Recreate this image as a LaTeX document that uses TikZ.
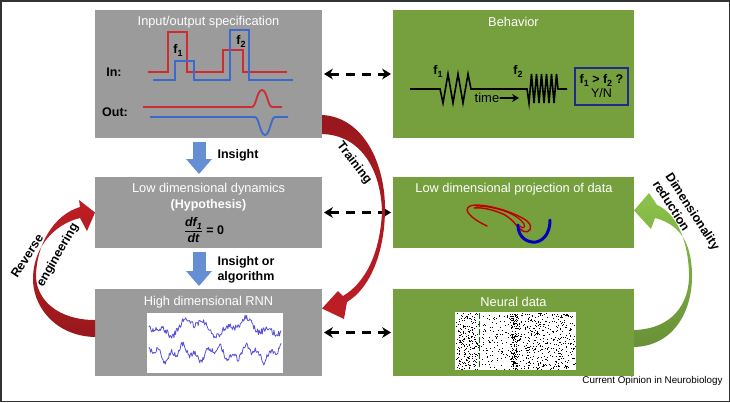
\documentclass[tikz,border=0pt]{standalone}
\usepackage{fontspec}
\setmainfont{Liberation Sans}
\usepackage{amsmath}
\usetikzlibrary{arrows.meta}
\definecolor{boxgray}{RGB}{155,155,155}
\definecolor{boxgreen}{RGB}{117,160,61}
\definecolor{sigred}{RGB}{205,45,50}
\definecolor{sigblue}{RGB}{60,105,205}
\definecolor{insightblue}{RGB}{102,142,210}
\definecolor{ribbonred}{RGB}{190,30,36}
\definecolor{ribbongreen}{RGB}{140,195,75}
\definecolor{tracecol}{RGB}{85,80,215}
\definecolor{navybox}{RGB}{35,40,140}
\definecolor{framegray}{RGB}{50,50,50}
\newcommand{\fidx}[1]{f\raisebox{-0.45ex}{\fontsize{9}{9}\selectfont #1}}

\begin{document}
\begin{tikzpicture}[x=1pt,y=-1pt,>={Stealth[length=9pt,width=11pt,line width=0pt]},line cap=round,
  graybox/.style={fill=boxgray,inner sep=0pt,outer sep=0pt,minimum width=227pt},
  greenbox/.style={fill=boxgreen,inner sep=0pt,outer sep=0pt,minimum width=241pt},
  boxtitle/.style={text=white,font=\fontsize{12.8}{15}\selectfont},
  lbl/.style={font=\bfseries\fontsize{12.5}{15}\selectfont},
  dashlink/.style={<->,line width=3pt,dash pattern=on 9pt off 7pt,line cap=butt,shorten <=2pt,shorten >=2pt},
  insight/.style={insightblue,line width=13pt,line cap=butt,-{Triangle[width=26pt,length=15pt,line width=0pt]},shorten <=4pt,shorten >=3pt},
  sig/.style={line width=1.8pt,line join=miter,line cap=butt},
  trace/.style={tracecol,line width=0.8pt,line join=round}]
\useasboundingbox (0,0) rectangle (730,402);
\draw[framegray,line width=1.5pt] (0.75,0.75) rectangle (729.25,401.25);

\node[graybox,minimum height=128pt] (io) at (208.5,74) {};
\node[greenbox,minimum height=128pt] (beh) at (513.5,74) {};
\node[graybox,minimum height=71pt] (dyn) at (208.5,212.5) {};
\node[greenbox,minimum height=71pt] (proj) at (513.5,212.5) {};
\node[graybox,minimum height=87pt] (rnn) at (208.5,332.5) {};
\node[greenbox,minimum height=87pt] (neur) at (513.5,332.5) {};

\node[boxtitle] (iotitle) at (208.5,22) {Input/output specification};
\node[boxtitle] (behtitle) at (513.5,22) {Behavior};
\node[boxtitle] (dyntitle) at (208.5,189) {Low dimensional dynamics};
\node[boxtitle] (projtitle) at (514,189) {Low dimensional projection of data};
\node[boxtitle] (rnntitle) at (208.5,302) {High dimensional RNN};
\node[boxtitle] (neurtitle) at (513.5,302) {Neural data};

\node[lbl] (inlbl) at (114,72) {In:};
\node[lbl] (outlbl) at (115,112) {Out:};
\node[lbl] (iof1) at (178,50) {\fidx{1}};
\node[lbl] (iof2) at (241,41) {\fidx{2}};
\draw[sig,sigred] (148,72) -- (168,72) -- (168,32) -- (187,32) -- (187,72) -- (223,72) -- (223,50) -- (243,50) -- (243,72) -- (287,72);
\draw[sig,sigblue] (153,80) -- (175,80) -- (175,61) -- (194,61) -- (194,80) -- (230,80) -- (230,30) -- (249,30) -- (249,80) -- (293,80);
\draw[sig,sigred] (143,107) -- (252,107) .. controls (256,107) and (257,90) .. (262,90) .. controls (267,90) and (268,107) .. (272,107) -- (282,107);
\draw[sig,sigblue] (150,117) -- (255,117) .. controls (259,117) and (260,135) .. (265,135) .. controls (270,135) and (271,117) .. (275,117) -- (288,117);

\node[lbl] (behf1) at (438,71) {\fidx{1}};
\node[lbl] (behf2) at (518,71) {\fidx{2}};
\draw[sig,line width=1.6pt] (410,89) -- (440,89) \foreach \k in {0,1,2}{ -- ({443+10*\k},103) -- ({448+10*\k},74) } -- (471,89) -- (527,89) \foreach \k in {0,...,5}{ -- ({529+5*\k},103) -- ({531.5+5*\k},74) } -- (558,89) -- (567,89);
\node[font=\fontsize{13}{15}\selectfont,inner sep=1pt] (timelbl) at (487,98) {time};
\coordinate (timeend) at (519,98);
\draw[line width=2pt,-{Stealth[length=7pt,width=8pt,line width=0pt]}] (timelbl.east) -- (timeend);
\node[draw=navybox,line width=1.3pt,minimum width=53pt,minimum height=37pt,inner sep=1pt,align=center,font=\fontsize{12.5}{14}\selectfont] (choice) at (601.5,86.5) {\textbf{\fidx{1} > \fidx{2} ?}\\Y/N};

\node[lbl,text=white] (hyp) at (208.5,205) {(Hypothesis)};
\node[font=\bfseries\fontsize{12.5}{14}\selectfont] (eq) at (204,230) {$\dfrac{\text{\bfseries\itshape d\fidx{1}}}{\text{\bfseries\itshape dt}}$ = 0};

\draw[red!75!black,line width=1.4pt] (487,226) .. controls (472,219) and (462,210) .. (470,206) .. controls (482,202) and (515,212) .. (527,221) .. controls (534,227) and (530,234) .. (523,231) .. controls (517,228) and (515,221) .. (505,215) .. controls (495,210) and (482,207) .. (474,208);
\draw[red!75!black,line width=1.2pt] (476,206) .. controls (495,206) and (518,214) .. (524,224) .. controls (526,228) and (522,229) .. (520,226);
\draw[blue!75!black,line width=3pt] (518,225) .. controls (518,238) and (528,243) .. (536,242) .. controls (546,240) and (550,230) .. (550,220);

\fill[white] (147,313) rectangle (283,373);
\pgfmathsetseed{7}
\draw[trace] plot[domain=149:281,samples=170] (\x,{327+6*sin(7*\x)+4*sin(17*\x+30)+3*rand});
\draw[trace] plot[domain=149:281,samples=170] (\x,{353+5*sin(11*\x+60)+4*sin(29*\x)+3*rand});

\fill[white] (455,312) rectangle (576,370);
\foreach \k in {1,...,220} \fill ({456+22*rnd},{313+56*rnd}) rectangle +(0.8,0.8);
\foreach \k in {1,...,110} \fill ({481+29*rnd},{313+56*rnd}) rectangle +(0.8,0.8);
\foreach \k in {1,...,170} \fill ({510+7*rnd},{313+56*rnd}) rectangle +(1,1);
\foreach \k in {1,...,420} \fill ({517+58*rnd},{313+56*rnd}) rectangle +(0.8,0.8);
\draw[green!45!black,line width=1pt,dash pattern=on 6pt off 2pt,line cap=butt] (479,313) -- (479,369);

\draw[dashlink] (io) -- (beh);
\draw[dashlink] (dyn) -- (proj);
\draw[dashlink] (rnn) -- (neur);
\draw[insight] ([xshift=-9.5pt]io.south) -- ([xshift=-9.5pt]dyn.north);
\draw[insight] ([xshift=-9.5pt]dyn.south) -- ([xshift=-9.5pt]rnn.north);
\node[lbl,anchor=west] (insightlbl) at (214,155) {Insight};
\node[lbl,anchor=west,align=left] (algolbl) at (214,269.5) {Insight or\\algorithm};

\shade[top color=ribbonred!80!black,bottom color=ribbonred] ([yshift=23pt]io.south east)
  .. controls (364,117) and (386,165) .. (385,212)
  .. controls (384,254) and (370,288) .. (347,302)
  -- (344,319) -- ([yshift=24pt]rnn.east) -- (338,291) -- (343,296)
  .. controls (365,283) and (380,254) .. (382,212)
  .. controls (381,170) and (361,135) .. ([yshift=4pt]io.south east) -- cycle;
\node[lbl,rotate=-52,inner sep=0pt] (trainlbl) at (354,163) {Training};

\shade[top color=ribbonred,bottom color=ribbonred!80!black] ([yshift=-4.5pt]rnn.west)
  .. controls (55,336) and (32,306) .. (33,277)
  .. controls (34,246) and (55,224) .. (80,218)
  -- (87,231) -- (dyn.west) -- (79,200) -- (80,207)
  .. controls (53,215) and (36,246) .. (36,277)
  .. controls (37,300) and (58,320) .. ([yshift=12.5pt]rnn.west) -- cycle;
\node[lbl,rotate=57,inner sep=0pt] (revlbl) at (27,256) {Reverse};
\node[lbl,rotate=60,inner sep=0pt] (englbl) at (58,255) {engineering};

\shade[top color=ribbongreen,bottom color=boxgreen!90!black] ([yshift=-14.5pt]neur.east)
  .. controls (673,346) and (693,312) .. (692,273)
  .. controls (691,240) and (678,224) .. (655,218)
  -- (651,229) -- ([yshift=2pt]proj.east) -- (649,193) -- (657,205)
  .. controls (676,213) and (688,240) .. (689,273)
  .. controls (690,305) and (671,329) .. ([yshift=2.5pt]neur.east) -- cycle;
\node[lbl,rotate=-57,inner sep=0pt] (dimlbl) at (692,212) {Dimensionality};
\node[lbl,rotate=-57,inner sep=0pt] (redlbl) at (671.5,205.5) {reduction};

\node[anchor=east,font=\fontsize{9.8}{11}\selectfont] (journal) at (726,381) {Current Opinion in Neurobiology};
\end{tikzpicture}
\end{document}
